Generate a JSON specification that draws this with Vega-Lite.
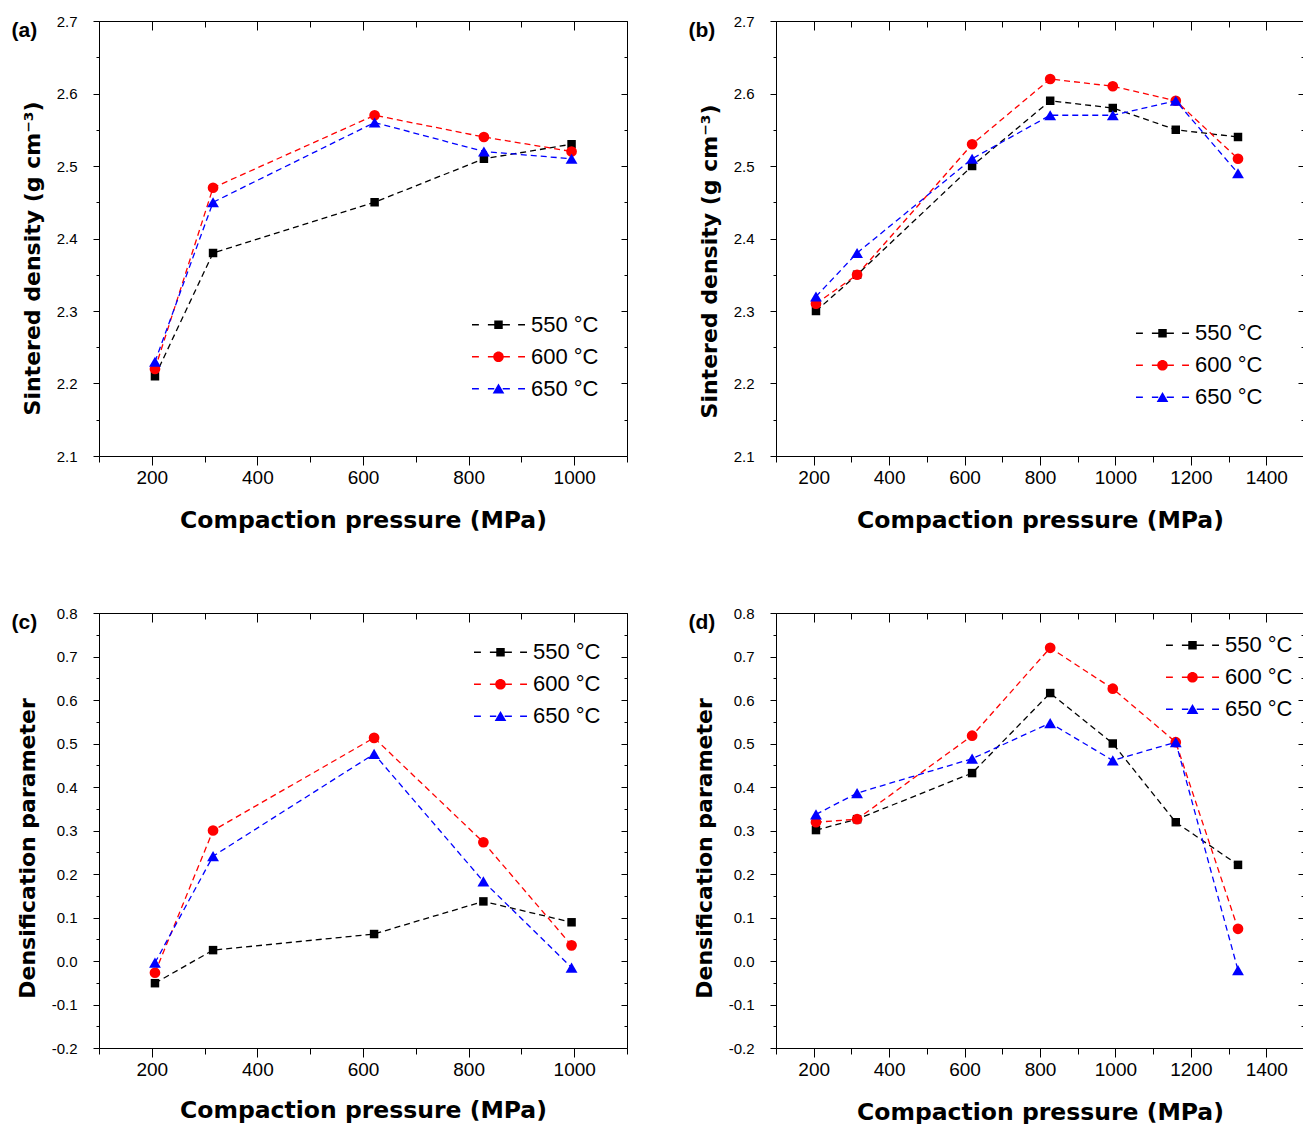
{
  "$schema": "https://vega.github.io/schema/vega-lite/v6.json",
  "background": "white",
  "padding": {"left": 11, "top": 14, "right": 0, "bottom": 0},
  "spacing": 74,
  "resolve": {"scale": {"color": "independent", "shape": "independent"}, "legend": {"color": "independent", "shape": "independent"}},
  "config": {
    "font": "Liberation Sans",
    "view": {"stroke": null},
    "axis": {"domainColor": "#000000", "tickColor": "#000000", "labelColor": "#000000", "titleColor": "#000000", "labelFont": "Liberation Sans", "grid": false, "domainWidth": 1, "tickWidth": 1}
  },
  "datasets": {
    "a": [
      {"p": 206, "v": 2.21, "T": "550 °C"}, {"p": 316, "v": 2.38, "T": "550 °C"}, {"p": 622, "v": 2.45, "T": "550 °C"}, {"p": 829, "v": 2.51, "T": "550 °C"}, {"p": 995, "v": 2.53, "T": "550 °C"},
      {"p": 206, "v": 2.22, "T": "600 °C"}, {"p": 316, "v": 2.47, "T": "600 °C"}, {"p": 622, "v": 2.57, "T": "600 °C"}, {"p": 829, "v": 2.54, "T": "600 °C"}, {"p": 995, "v": 2.52, "T": "600 °C"},
      {"p": 206, "v": 2.23, "T": "650 °C"}, {"p": 316, "v": 2.45, "T": "650 °C"}, {"p": 622, "v": 2.56, "T": "650 °C"}, {"p": 829, "v": 2.52, "T": "650 °C"}, {"p": 995, "v": 2.51, "T": "650 °C"}
    ],
    "b": [
      {"p": 206, "v": 2.30, "T": "550 °C"}, {"p": 315, "v": 2.35, "T": "550 °C"}, {"p": 620, "v": 2.50, "T": "550 °C"}, {"p": 827, "v": 2.59, "T": "550 °C"}, {"p": 993, "v": 2.58, "T": "550 °C"}, {"p": 1160, "v": 2.55, "T": "550 °C"}, {"p": 1325, "v": 2.54, "T": "550 °C"},
      {"p": 206, "v": 2.31, "T": "600 °C"}, {"p": 315, "v": 2.35, "T": "600 °C"}, {"p": 620, "v": 2.53, "T": "600 °C"}, {"p": 827, "v": 2.62, "T": "600 °C"}, {"p": 993, "v": 2.61, "T": "600 °C"}, {"p": 1160, "v": 2.59, "T": "600 °C"}, {"p": 1325, "v": 2.51, "T": "600 °C"},
      {"p": 206, "v": 2.32, "T": "650 °C"}, {"p": 315, "v": 2.38, "T": "650 °C"}, {"p": 620, "v": 2.51, "T": "650 °C"}, {"p": 827, "v": 2.57, "T": "650 °C"}, {"p": 993, "v": 2.57, "T": "650 °C"}, {"p": 1160, "v": 2.59, "T": "650 °C"}, {"p": 1325, "v": 2.49, "T": "650 °C"}
    ],
    "c": [
      {"p": 206, "v": -0.051, "T": "550 °C"}, {"p": 316, "v": 0.025, "T": "550 °C"}, {"p": 621, "v": 0.062, "T": "550 °C"}, {"p": 828, "v": 0.137, "T": "550 °C"}, {"p": 995, "v": 0.089, "T": "550 °C"},
      {"p": 206, "v": -0.027, "T": "600 °C"}, {"p": 316, "v": 0.300, "T": "600 °C"}, {"p": 621, "v": 0.513, "T": "600 °C"}, {"p": 828, "v": 0.273, "T": "600 °C"}, {"p": 995, "v": 0.036, "T": "600 °C"},
      {"p": 206, "v": -0.004, "T": "650 °C"}, {"p": 316, "v": 0.241, "T": "650 °C"}, {"p": 621, "v": 0.476, "T": "650 °C"}, {"p": 828, "v": 0.183, "T": "650 °C"}, {"p": 995, "v": -0.015, "T": "650 °C"}
    ],
    "d": [
      {"p": 206, "v": 0.301, "T": "550 °C"}, {"p": 315, "v": 0.326, "T": "550 °C"}, {"p": 620, "v": 0.432, "T": "550 °C"}, {"p": 827, "v": 0.616, "T": "550 °C"}, {"p": 993, "v": 0.500, "T": "550 °C"}, {"p": 1160, "v": 0.319, "T": "550 °C"}, {"p": 1325, "v": 0.221, "T": "550 °C"},
      {"p": 206, "v": 0.319, "T": "600 °C"}, {"p": 315, "v": 0.326, "T": "600 °C"}, {"p": 620, "v": 0.518, "T": "600 °C"}, {"p": 827, "v": 0.720, "T": "600 °C"}, {"p": 993, "v": 0.626, "T": "600 °C"}, {"p": 1160, "v": 0.503, "T": "600 °C"}, {"p": 1325, "v": 0.074, "T": "600 °C"},
      {"p": 206, "v": 0.337, "T": "650 °C"}, {"p": 315, "v": 0.386, "T": "650 °C"}, {"p": 620, "v": 0.465, "T": "650 °C"}, {"p": 827, "v": 0.547, "T": "650 °C"}, {"p": 993, "v": 0.461, "T": "650 °C"}, {"p": 1160, "v": 0.503, "T": "650 °C"}, {"p": 1325, "v": -0.021, "T": "650 °C"}
    ]
  },
  "vconcat": [
    {
      "spacing": 60,
      "resolve": {"scale": {"color": "independent", "shape": "independent"}, "legend": {"color": "independent", "shape": "independent"}},
      "hconcat": [
        {
          "width": 528, "height": 435,
          "data": {"name": "a"},
          "layer": [
            {"transform": [{"filter": "datum.T === '550 °C'"}],
             "mark": {"type": "line", "color": "#000000", "strokeDash": [6, 4], "strokeWidth": 1.3, "point": {"shape": "square", "filled": true, "size": 72, "opacity": 1, "color": "#000000"}},
             "encoding": {
               "x": {"field": "p", "type": "quantitative", "scale": {"domain": [100, 1100], "nice": false, "zero": false},
                     "axis": {"orient": "bottom", "values": [100,200,300,400,500,600,700,800,900,1000,1100], "format": "d", "labelExpr": "datum.value % 200 === 0 && datum.value >= 200 && datum.value <= 1000 ? datum.label : ''", "tickSize": {"condition": {"test": "datum.value % 200 === 0", "value": 9}, "value": 6}, "labelPadding": 3, "labelFontSize": 19, "labelOverlap": false, "labelFlush": false, "title": "Compaction pressure (MPa)", "titleFont": "DejaVu Sans", "titleFontSize": 23.5, "titleFontWeight": "bold", "titlePadding": 21}},
               "y": {"field": "v", "type": "quantitative", "scale": {"domain": [2.1, 2.7], "nice": false, "zero": false},
                     "axis": {"orient": "left", "values": [2.1,2.15,2.2,2.25,2.3,2.35,2.4,2.45,2.5,2.55,2.6,2.65,2.7], "labelExpr": "abs(datum.value * 10 - round(datum.value * 10)) < 0.001 ? replace(format(datum.value, '.1f'), '−', '-') : ''", "tickSize": {"condition": {"test": "abs(datum.value * 10 - round(datum.value * 10)) < 0.001", "value": 6}, "value": 3}, "labelPadding": 16, "labelFontSize": 15, "labelOverlap": false, "labelFlush": false, "title": "Sintered density (g cm⁻³)", "titleFont": "DejaVu Sans", "titleFontSize": 22, "titleFontWeight": "bold", "titlePadding": 12, "titleY": 237}}
             }},
            {"transform": [{"filter": "datum.T === '600 °C'"}],
             "mark": {"type": "line", "color": "#ff0000", "strokeDash": [6, 4], "strokeWidth": 1.3, "point": {"shape": "circle", "filled": true, "size": 115, "opacity": 1, "color": "#ff0000"}},
             "encoding": {
               "x": {"field": "p", "type": "quantitative", "axis": {"orient": "top", "values": [100,200,300,400,500,600,700,800,900,1000,1100], "labels": false, "tickSize": {"condition": {"test": "datum.value % 200 === 0", "value": -9}, "value": -6}, "title": "(a)", "titleX": -88, "titleY": 15.5, "titleAngle": 0, "titleAlign": "left", "titleBaseline": "alphabetic", "titleFont": "Liberation Sans", "titleFontSize": 21, "titleFontWeight": "bold"}},
               "y": {"field": "v", "type": "quantitative", "axis": {"orient": "right", "values": [2.1,2.15,2.2,2.25,2.3,2.35,2.4,2.45,2.5,2.55,2.6,2.65,2.7], "labels": false, "title": null, "tickSize": {"condition": {"test": "abs(datum.value * 10 - round(datum.value * 10)) < 0.001", "value": -6}, "value": -3}}}
             }},
            {"transform": [{"filter": "datum.T === '650 °C'"}],
             "mark": {"type": "line", "color": "#0000ff", "strokeDash": [6, 4], "strokeWidth": 1.3, "point": {"shape": "triangle-up", "filled": true, "size": 140, "opacity": 1, "color": "#0000ff"}},
             "encoding": {"x": {"field": "p", "type": "quantitative", "axis": null}, "y": {"field": "v", "type": "quantitative", "axis": null}}},
            {"transform": [{"filter": "false"}],
             "mark": {"type": "point", "filled": true, "opacity": 1},
             "encoding": {
               "x": {"field": "p", "type": "quantitative", "axis": null},
               "y": {"field": "v", "type": "quantitative", "axis": null},
               "color": {"field": "T", "type": "nominal", "scale": {"domain": ["550 °C", "600 °C", "650 °C"], "range": ["#000000", "#ff0000", "#0000ff"]}, "legend": {"orient": "none", "legendX": 373, "legendY": 288, "title": null, "symbolSize": 2809, "clipHeight": 31.5, "rowPadding": 0, "padding": 0, "labelOffset": 6, "labelFont": "Liberation Sans", "labelFontSize": 22, "labelColor": "#000000", "symbolStrokeWidth": 0, "symbolOpacity": 1, "labelLimit": 300}},
               "shape": {"field": "T", "type": "nominal", "scale": {"domain": ["550 °C", "600 °C", "650 °C"], "range": [
                 "M-1,-0.025H-0.74V0.025H-1Z M-0.4,-0.025H-0.16V0.025H-0.4Z M-0.16,-0.16H0.16V0.16H-0.16Z M0.16,-0.025H0.43V0.025H0.16Z M0.74,-0.025H1V0.025H0.74Z",
                 "M-1,-0.025H-0.74V0.025H-1Z M-0.4,-0.025H-0.19V0.025H-0.4Z M0.2,0A0.2,0.2 0 1,1 -0.2,0A0.2,0.2 0 1,1 0.2,0Z M0.19,-0.025H0.43V0.025H0.19Z M0.74,-0.025H1V0.025H0.74Z",
                 "M-1,-0.025H-0.74V0.025H-1Z M-0.4,-0.025H-0.16V0.025H-0.4Z M0,-0.2L0.22,0.18L-0.22,0.18Z M0.16,-0.025H0.43V0.025H0.16Z M0.74,-0.025H1V0.025H0.74Z"
               ]}, "legend": {"orient": "none", "legendX": 373, "legendY": 288, "title": null, "symbolSize": 2809, "clipHeight": 31.5, "rowPadding": 0, "padding": 0, "labelOffset": 6, "labelFont": "Liberation Sans", "labelFontSize": 22, "labelColor": "#000000", "symbolStrokeWidth": 0, "symbolOpacity": 1, "labelLimit": 300}}
             }}
          ]
        },
        {
          "width": 528, "height": 435,
          "data": {"name": "b"},
          "layer": [
            {"transform": [{"filter": "datum.T === '550 °C'"}],
             "mark": {"type": "line", "color": "#000000", "strokeDash": [6, 4], "strokeWidth": 1.3, "point": {"shape": "square", "filled": true, "size": 72, "opacity": 1, "color": "#000000"}},
             "encoding": {
               "x": {"field": "p", "type": "quantitative", "scale": {"domain": [100, 1500], "nice": false, "zero": false},
                     "axis": {"orient": "bottom", "values": [100,200,300,400,500,600,700,800,900,1000,1100,1200,1300,1400,1500], "format": "d", "labelExpr": "datum.value % 200 === 0 && datum.value >= 200 && datum.value <= 1400 ? datum.label : ''", "tickSize": {"condition": {"test": "datum.value % 200 === 0", "value": 9}, "value": 6}, "labelPadding": 3, "labelFontSize": 19, "labelOverlap": false, "labelFlush": false, "title": "Compaction pressure (MPa)", "titleFont": "DejaVu Sans", "titleFontSize": 23.5, "titleFontWeight": "bold", "titlePadding": 21}},
               "y": {"field": "v", "type": "quantitative", "scale": {"domain": [2.1, 2.7], "nice": false, "zero": false},
                     "axis": {"orient": "left", "values": [2.1,2.15,2.2,2.25,2.3,2.35,2.4,2.45,2.5,2.55,2.6,2.65,2.7], "labelExpr": "abs(datum.value * 10 - round(datum.value * 10)) < 0.001 ? replace(format(datum.value, '.1f'), '−', '-') : ''", "tickSize": {"condition": {"test": "abs(datum.value * 10 - round(datum.value * 10)) < 0.001", "value": 6}, "value": 3}, "labelPadding": 16, "labelFontSize": 15, "labelOverlap": false, "labelFlush": false, "title": "Sintered density (g cm⁻³)", "titleFont": "DejaVu Sans", "titleFontSize": 22, "titleFontWeight": "bold", "titlePadding": 12, "titleY": 240}}
             }},
            {"transform": [{"filter": "datum.T === '600 °C'"}],
             "mark": {"type": "line", "color": "#ff0000", "strokeDash": [6, 4], "strokeWidth": 1.3, "point": {"shape": "circle", "filled": true, "size": 115, "opacity": 1, "color": "#ff0000"}},
             "encoding": {
               "x": {"field": "p", "type": "quantitative", "axis": {"orient": "top", "values": [100,200,300,400,500,600,700,800,900,1000,1100,1200,1300,1400,1500], "labels": false, "tickSize": {"condition": {"test": "datum.value % 200 === 0", "value": -9}, "value": -6}, "title": "(b)", "titleX": -88, "titleY": 15.5, "titleAngle": 0, "titleAlign": "left", "titleBaseline": "alphabetic", "titleFont": "Liberation Sans", "titleFontSize": 21, "titleFontWeight": "bold"}},
               "y": {"field": "v", "type": "quantitative", "axis": {"orient": "right", "values": [2.1,2.15,2.2,2.25,2.3,2.35,2.4,2.45,2.5,2.55,2.6,2.65,2.7], "labels": false, "title": null, "tickSize": {"condition": {"test": "abs(datum.value * 10 - round(datum.value * 10)) < 0.001", "value": -6}, "value": -3}}}
             }},
            {"transform": [{"filter": "datum.T === '650 °C'"}],
             "mark": {"type": "line", "color": "#0000ff", "strokeDash": [6, 4], "strokeWidth": 1.3, "point": {"shape": "triangle-up", "filled": true, "size": 140, "opacity": 1, "color": "#0000ff"}},
             "encoding": {"x": {"field": "p", "type": "quantitative", "axis": null}, "y": {"field": "v", "type": "quantitative", "axis": null}}},
            {"transform": [{"filter": "false"}],
             "mark": {"type": "point", "filled": true, "opacity": 1},
             "encoding": {
               "x": {"field": "p", "type": "quantitative", "axis": null},
               "y": {"field": "v", "type": "quantitative", "axis": null},
               "color": {"field": "T", "type": "nominal", "scale": {"domain": ["550 °C", "600 °C", "650 °C"], "range": ["#000000", "#ff0000", "#0000ff"]}, "legend": {"orient": "none", "legendX": 360, "legendY": 296.5, "title": null, "symbolSize": 2809, "clipHeight": 31.5, "rowPadding": 0, "padding": 0, "labelOffset": 6, "labelFont": "Liberation Sans", "labelFontSize": 22, "labelColor": "#000000", "symbolStrokeWidth": 0, "symbolOpacity": 1, "labelLimit": 300}},
               "shape": {"field": "T", "type": "nominal", "scale": {"domain": ["550 °C", "600 °C", "650 °C"], "range": [
                 "M-1,-0.025H-0.74V0.025H-1Z M-0.4,-0.025H-0.16V0.025H-0.4Z M-0.16,-0.16H0.16V0.16H-0.16Z M0.16,-0.025H0.43V0.025H0.16Z M0.74,-0.025H1V0.025H0.74Z",
                 "M-1,-0.025H-0.74V0.025H-1Z M-0.4,-0.025H-0.19V0.025H-0.4Z M0.2,0A0.2,0.2 0 1,1 -0.2,0A0.2,0.2 0 1,1 0.2,0Z M0.19,-0.025H0.43V0.025H0.19Z M0.74,-0.025H1V0.025H0.74Z",
                 "M-1,-0.025H-0.74V0.025H-1Z M-0.4,-0.025H-0.16V0.025H-0.4Z M0,-0.2L0.22,0.18L-0.22,0.18Z M0.16,-0.025H0.43V0.025H0.16Z M0.74,-0.025H1V0.025H0.74Z"
               ]}, "legend": {"orient": "none", "legendX": 360, "legendY": 296.5, "title": null, "symbolSize": 2809, "clipHeight": 31.5, "rowPadding": 0, "padding": 0, "labelOffset": 6, "labelFont": "Liberation Sans", "labelFontSize": 22, "labelColor": "#000000", "symbolStrokeWidth": 0, "symbolOpacity": 1, "labelLimit": 300}}
             }}
          ]
        }
      ]
    },
    {
      "spacing": 60,
      "resolve": {"scale": {"color": "independent", "shape": "independent"}, "legend": {"color": "independent", "shape": "independent"}},
      "hconcat": [
        {
          "width": 528, "height": 435,
          "data": {"name": "c"},
          "layer": [
            {"transform": [{"filter": "datum.T === '550 °C'"}],
             "mark": {"type": "line", "color": "#000000", "strokeDash": [6, 4], "strokeWidth": 1.3, "point": {"shape": "square", "filled": true, "size": 72, "opacity": 1, "color": "#000000"}},
             "encoding": {
               "x": {"field": "p", "type": "quantitative", "scale": {"domain": [100, 1100], "nice": false, "zero": false},
                     "axis": {"orient": "bottom", "values": [100,200,300,400,500,600,700,800,900,1000,1100], "format": "d", "labelExpr": "datum.value % 200 === 0 && datum.value >= 200 && datum.value <= 1000 ? datum.label : ''", "tickSize": {"condition": {"test": "datum.value % 200 === 0", "value": 9}, "value": 6}, "labelPadding": 3, "labelFontSize": 19, "labelOverlap": false, "labelFlush": false, "title": "Compaction pressure (MPa)", "titleFont": "DejaVu Sans", "titleFontSize": 23.5, "titleFontWeight": "bold", "titlePadding": 19}},
               "y": {"field": "v", "type": "quantitative", "scale": {"domain": [-0.2, 0.8], "nice": false, "zero": false},
                     "axis": {"orient": "left", "values": [-0.2,-0.15,-0.1,-0.05,0,0.05,0.1,0.15,0.2,0.25,0.3,0.35,0.4,0.45,0.5,0.55,0.6,0.65,0.7,0.75,0.8], "labelExpr": "abs(datum.value * 10 - round(datum.value * 10)) < 0.001 ? replace(format(datum.value, '.1f'), '−', '-') : ''", "tickSize": {"condition": {"test": "abs(datum.value * 10 - round(datum.value * 10)) < 0.001", "value": 6}, "value": 3}, "labelPadding": 16, "labelFontSize": 15, "labelOverlap": false, "labelFlush": false, "title": "Densification parameter", "titleFont": "DejaVu Sans", "titleFontSize": 22, "titleFontWeight": "bold", "titlePadding": 12, "titleY": 235}}
             }},
            {"transform": [{"filter": "datum.T === '600 °C'"}],
             "mark": {"type": "line", "color": "#ff0000", "strokeDash": [6, 4], "strokeWidth": 1.3, "point": {"shape": "circle", "filled": true, "size": 115, "opacity": 1, "color": "#ff0000"}},
             "encoding": {
               "x": {"field": "p", "type": "quantitative", "axis": {"orient": "top", "values": [100,200,300,400,500,600,700,800,900,1000,1100], "labels": false, "tickSize": {"condition": {"test": "datum.value % 200 === 0", "value": -9}, "value": -6}, "title": "(c)", "titleX": -88, "titleY": 15.5, "titleAngle": 0, "titleAlign": "left", "titleBaseline": "alphabetic", "titleFont": "Liberation Sans", "titleFontSize": 21, "titleFontWeight": "bold"}},
               "y": {"field": "v", "type": "quantitative", "axis": {"orient": "right", "values": [-0.2,-0.15,-0.1,-0.05,0,0.05,0.1,0.15,0.2,0.25,0.3,0.35,0.4,0.45,0.5,0.55,0.6,0.65,0.7,0.75,0.8], "labels": false, "title": null, "tickSize": {"condition": {"test": "abs(datum.value * 10 - round(datum.value * 10)) < 0.001", "value": -6}, "value": -3}}}
             }},
            {"transform": [{"filter": "datum.T === '650 °C'"}],
             "mark": {"type": "line", "color": "#0000ff", "strokeDash": [6, 4], "strokeWidth": 1.3, "point": {"shape": "triangle-up", "filled": true, "size": 140, "opacity": 1, "color": "#0000ff"}},
             "encoding": {"x": {"field": "p", "type": "quantitative", "axis": null}, "y": {"field": "v", "type": "quantitative", "axis": null}}},
            {"transform": [{"filter": "false"}],
             "mark": {"type": "point", "filled": true, "opacity": 1},
             "encoding": {
               "x": {"field": "p", "type": "quantitative", "axis": null},
               "y": {"field": "v", "type": "quantitative", "axis": null},
               "color": {"field": "T", "type": "nominal", "scale": {"domain": ["550 °C", "600 °C", "650 °C"], "range": ["#000000", "#ff0000", "#0000ff"]}, "legend": {"orient": "none", "legendX": 375, "legendY": 23.5, "title": null, "symbolSize": 2809, "clipHeight": 31.5, "rowPadding": 0, "padding": 0, "labelOffset": 6, "labelFont": "Liberation Sans", "labelFontSize": 22, "labelColor": "#000000", "symbolStrokeWidth": 0, "symbolOpacity": 1, "labelLimit": 300}},
               "shape": {"field": "T", "type": "nominal", "scale": {"domain": ["550 °C", "600 °C", "650 °C"], "range": [
                 "M-1,-0.025H-0.74V0.025H-1Z M-0.4,-0.025H-0.16V0.025H-0.4Z M-0.16,-0.16H0.16V0.16H-0.16Z M0.16,-0.025H0.43V0.025H0.16Z M0.74,-0.025H1V0.025H0.74Z",
                 "M-1,-0.025H-0.74V0.025H-1Z M-0.4,-0.025H-0.19V0.025H-0.4Z M0.2,0A0.2,0.2 0 1,1 -0.2,0A0.2,0.2 0 1,1 0.2,0Z M0.19,-0.025H0.43V0.025H0.19Z M0.74,-0.025H1V0.025H0.74Z",
                 "M-1,-0.025H-0.74V0.025H-1Z M-0.4,-0.025H-0.16V0.025H-0.4Z M0,-0.2L0.22,0.18L-0.22,0.18Z M0.16,-0.025H0.43V0.025H0.16Z M0.74,-0.025H1V0.025H0.74Z"
               ]}, "legend": {"orient": "none", "legendX": 375, "legendY": 23.5, "title": null, "symbolSize": 2809, "clipHeight": 31.5, "rowPadding": 0, "padding": 0, "labelOffset": 6, "labelFont": "Liberation Sans", "labelFontSize": 22, "labelColor": "#000000", "symbolStrokeWidth": 0, "symbolOpacity": 1, "labelLimit": 300}}
             }}
          ]
        },
        {
          "width": 528, "height": 435,
          "data": {"name": "d"},
          "layer": [
            {"transform": [{"filter": "datum.T === '550 °C'"}],
             "mark": {"type": "line", "color": "#000000", "strokeDash": [6, 4], "strokeWidth": 1.3, "point": {"shape": "square", "filled": true, "size": 72, "opacity": 1, "color": "#000000"}},
             "encoding": {
               "x": {"field": "p", "type": "quantitative", "scale": {"domain": [100, 1500], "nice": false, "zero": false},
                     "axis": {"orient": "bottom", "values": [100,200,300,400,500,600,700,800,900,1000,1100,1200,1300,1400,1500], "format": "d", "labelExpr": "datum.value % 200 === 0 && datum.value >= 200 && datum.value <= 1400 ? datum.label : ''", "tickSize": {"condition": {"test": "datum.value % 200 === 0", "value": 9}, "value": 6}, "labelPadding": 3, "labelFontSize": 19, "labelOverlap": false, "labelFlush": false, "title": "Compaction pressure (MPa)", "titleFont": "DejaVu Sans", "titleFontSize": 23.5, "titleFontWeight": "bold", "titlePadding": 21}},
               "y": {"field": "v", "type": "quantitative", "scale": {"domain": [-0.2, 0.8], "nice": false, "zero": false},
                     "axis": {"orient": "left", "values": [-0.2,-0.15,-0.1,-0.05,0,0.05,0.1,0.15,0.2,0.25,0.3,0.35,0.4,0.45,0.5,0.55,0.6,0.65,0.7,0.75,0.8], "labelExpr": "abs(datum.value * 10 - round(datum.value * 10)) < 0.001 ? replace(format(datum.value, '.1f'), '−', '-') : ''", "tickSize": {"condition": {"test": "abs(datum.value * 10 - round(datum.value * 10)) < 0.001", "value": 6}, "value": 3}, "labelPadding": 16, "labelFontSize": 15, "labelOverlap": false, "labelFlush": false, "title": "Densification parameter", "titleFont": "DejaVu Sans", "titleFontSize": 22, "titleFontWeight": "bold", "titlePadding": 12, "titleY": 235}}
             }},
            {"transform": [{"filter": "datum.T === '600 °C'"}],
             "mark": {"type": "line", "color": "#ff0000", "strokeDash": [6, 4], "strokeWidth": 1.3, "point": {"shape": "circle", "filled": true, "size": 115, "opacity": 1, "color": "#ff0000"}},
             "encoding": {
               "x": {"field": "p", "type": "quantitative", "axis": {"orient": "top", "values": [100,200,300,400,500,600,700,800,900,1000,1100,1200,1300,1400,1500], "labels": false, "tickSize": {"condition": {"test": "datum.value % 200 === 0", "value": -9}, "value": -6}, "title": "(d)", "titleX": -88, "titleY": 15.5, "titleAngle": 0, "titleAlign": "left", "titleBaseline": "alphabetic", "titleFont": "Liberation Sans", "titleFontSize": 21, "titleFontWeight": "bold"}},
               "y": {"field": "v", "type": "quantitative", "axis": {"orient": "right", "values": [-0.2,-0.15,-0.1,-0.05,0,0.05,0.1,0.15,0.2,0.25,0.3,0.35,0.4,0.45,0.5,0.55,0.6,0.65,0.7,0.75,0.8], "labels": false, "title": null, "tickSize": {"condition": {"test": "abs(datum.value * 10 - round(datum.value * 10)) < 0.001", "value": -6}, "value": -3}}}
             }},
            {"transform": [{"filter": "datum.T === '650 °C'"}],
             "mark": {"type": "line", "color": "#0000ff", "strokeDash": [6, 4], "strokeWidth": 1.3, "point": {"shape": "triangle-up", "filled": true, "size": 140, "opacity": 1, "color": "#0000ff"}},
             "encoding": {"x": {"field": "p", "type": "quantitative", "axis": null}, "y": {"field": "v", "type": "quantitative", "axis": null}}},
            {"transform": [{"filter": "false"}],
             "mark": {"type": "point", "filled": true, "opacity": 1},
             "encoding": {
               "x": {"field": "p", "type": "quantitative", "axis": null},
               "y": {"field": "v", "type": "quantitative", "axis": null},
               "color": {"field": "T", "type": "nominal", "scale": {"domain": ["550 °C", "600 °C", "650 °C"], "range": ["#000000", "#ff0000", "#0000ff"]}, "legend": {"orient": "none", "legendX": 390, "legendY": 16.5, "title": null, "symbolSize": 2809, "clipHeight": 31.5, "rowPadding": 0, "padding": 0, "labelOffset": 6, "labelFont": "Liberation Sans", "labelFontSize": 22, "labelColor": "#000000", "symbolStrokeWidth": 0, "symbolOpacity": 1, "labelLimit": 300}},
               "shape": {"field": "T", "type": "nominal", "scale": {"domain": ["550 °C", "600 °C", "650 °C"], "range": [
                 "M-1,-0.025H-0.74V0.025H-1Z M-0.4,-0.025H-0.16V0.025H-0.4Z M-0.16,-0.16H0.16V0.16H-0.16Z M0.16,-0.025H0.43V0.025H0.16Z M0.74,-0.025H1V0.025H0.74Z",
                 "M-1,-0.025H-0.74V0.025H-1Z M-0.4,-0.025H-0.19V0.025H-0.4Z M0.2,0A0.2,0.2 0 1,1 -0.2,0A0.2,0.2 0 1,1 0.2,0Z M0.19,-0.025H0.43V0.025H0.19Z M0.74,-0.025H1V0.025H0.74Z",
                 "M-1,-0.025H-0.74V0.025H-1Z M-0.4,-0.025H-0.16V0.025H-0.4Z M0,-0.2L0.22,0.18L-0.22,0.18Z M0.16,-0.025H0.43V0.025H0.16Z M0.74,-0.025H1V0.025H0.74Z"
               ]}, "legend": {"orient": "none", "legendX": 390, "legendY": 16.5, "title": null, "symbolSize": 2809, "clipHeight": 31.5, "rowPadding": 0, "padding": 0, "labelOffset": 6, "labelFont": "Liberation Sans", "labelFontSize": 22, "labelColor": "#000000", "symbolStrokeWidth": 0, "symbolOpacity": 1, "labelLimit": 300}}
             }}
          ]
        }
      ]
    }
  ]
}
